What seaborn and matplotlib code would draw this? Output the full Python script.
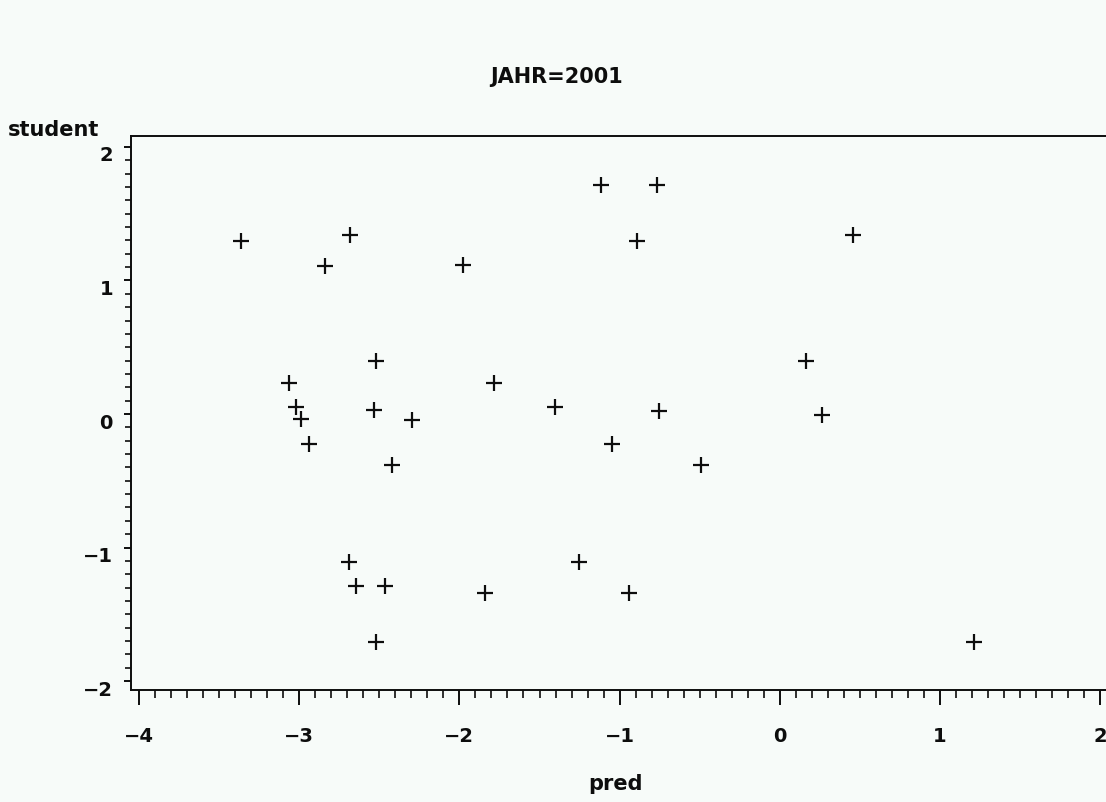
import matplotlib
matplotlib.use("Agg")
import matplotlib.pyplot as plt
import matplotlib.transforms as mtransforms
from matplotlib.ticker import MultipleLocator
import seaborn as sns
import pandas as pd

# Predicted values and studentized residuals for JAHR=2001
pred = [-3.363, -2.683, -2.839, -1.978, -1.116, -0.767, -0.891, 0.457,
        -3.064, -2.521, -3.020, -2.989, -2.939, -2.533, -2.296, -2.421,
        -1.784, -1.403, -1.047, -0.754, -0.492, 0.164, 0.263,
        -2.689, -2.645, -2.464, -2.521, -1.840, -1.253, -0.941, 1.212]
student = [1.296, 1.341, 1.109, 1.116, 1.715, 1.715, 1.296, 1.341,
           0.232, 0.397, 0.050, -0.037, -0.225, 0.030, -0.045, -0.382,
           0.232, 0.050, -0.225, 0.022, -0.382, 0.397, -0.007,
           -1.109, -1.288, -1.288, -1.708, -1.341, -1.109, -1.341, -1.708]

x_ticks = [-4, -3, -2, -1, 0, 1, 2]
y_ticks = [-2, -1, 0, 1, 2]
title_text = "JAHR=2001"
x_name = "pred"
y_name = "student"

df = pd.DataFrame({"pred": pred, "student": student})

sns.set_theme(style="white")
bg = "#f7fbf9"
ink = "#0d0d0d"
plt.rcParams["font.family"] = ["DejaVu Sans"]
plt.rcParams["font.weight"] = "bold"

fig = plt.figure(figsize=(11.06, 8.03), dpi=100, facecolor=bg)
ax = fig.add_axes([131 / 1106, 112 / 803, 1 - 131 / 1106, 554 / 803])
ax.set_facecolor(bg)

sns.scatterplot(data=df, x="pred", y="student", marker="+", s=130,
                color=ink, linewidth=1.6, ax=ax, legend=False, zorder=3)

ax.set_xlim(-4.05, 2.036)
ax.set_ylim(-2.067, 2.082)
ax.set_xticks(x_ticks)
ax.set_yticks(y_ticks)
ax.xaxis.set_minor_locator(MultipleLocator(0.1))
ax.yaxis.set_minor_locator(MultipleLocator(0.1))

for side in ["left", "bottom", "top"]:
    ax.spines[side].set_visible(True)
    ax.spines[side].set_color(ink)
    ax.spines[side].set_linewidth(1.4)
ax.spines["right"].set_visible(False)

ax.tick_params(axis="x", which="major", direction="out", length=11, width=1.4,
               color=ink, pad=15, labelsize=14, labelcolor=ink, bottom=True, top=False)
ax.tick_params(axis="x", which="minor", direction="out", length=5.5, width=1.2,
               color=ink, bottom=True, top=False)
ax.tick_params(axis="y", which="major", direction="out", length=5, width=1.4,
               color=ink, pad=8, labelsize=14, labelcolor=ink, left=True, right=False)
ax.tick_params(axis="y", which="minor", direction="out", length=4.5, width=1.2,
               color=ink, left=True, right=False)

shift = mtransforms.ScaledTranslation(0, -6 / 100, fig.dpi_scale_trans)
for lab in ax.get_yticklabels():
    lab.set_transform(lab.get_transform() + shift)
for lab in ax.get_xticklabels() + ax.get_yticklabels():
    lab.set_fontweight("bold")

ax.set_xlabel("")
ax.set_ylabel("")
ax.grid(False)

fig.text(557 / 1106, 1 - 77 / 803, title_text, ha="center", va="center",
         fontsize=15, fontweight="bold", color=ink)
fig.text(8 / 1106, 1 - 130 / 803, y_name, ha="left", va="center",
         fontsize=15, fontweight="bold", color=ink)
fig.text(616 / 1106, 1 - 784 / 803, x_name, ha="center", va="center",
         fontsize=15, fontweight="bold", color=ink)

fig.savefig("out.png", dpi=100, facecolor=bg)
